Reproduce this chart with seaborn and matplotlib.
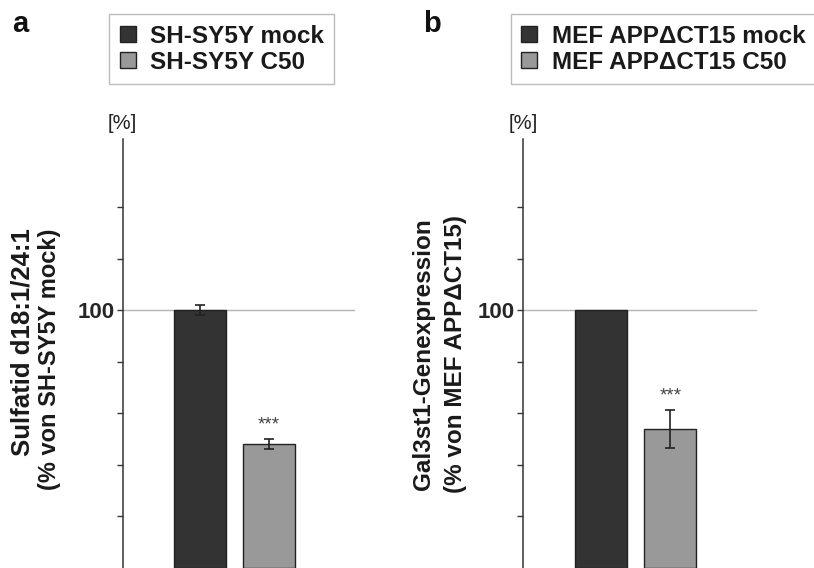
import matplotlib
matplotlib.use("Agg")
import matplotlib.pyplot as plt
import seaborn as sns
import pandas as pd
from matplotlib.patches import Patch

# ---- data ----
groups_a = ["SH-SY5Y mock", "SH-SY5Y C50"]
values_a = [100.0, 48.1]
errors_a = [1.9, 1.9]

groups_b = ["MEF APP\u0394CT15 mock", "MEF APP\u0394CT15 C50"]
values_b = [100.0, 53.9]
errors_b = [0.0, 7.3]

ylabel_a = ["Sulfatid d18:1/24:1", "(% von SH-SY5Y mock)"]
ylabel_b = ["Gal3st1-Genexpression", "(% von MEF APP\u0394CT15)"]
signif = "***"
colors = ["#333333", "#999999"]

sns.set_theme(style="white")
plt.rcParams["font.family"] = ["Liberation Sans", "DejaVu Sans"]

W, H = 814, 568
fig = plt.figure(figsize=(W / 100, H / 100), dpi=100)

def px(x, y):
    return x / W, 1 - y / H

def panel(left, right, groups, values, errors, ylab, lab_pos, lab_sizes, letter, letter_x, leg_x):
    top = 139
    ax = fig.add_axes([left / W, 0, (right - left) / W, (H - top) / H])
    df = pd.DataFrame({"group": groups, "value": values})
    sns.barplot(data=df, x="group", y="value", hue="group", palette=colors,
                order=groups, hue_order=groups, width=0.754, dodge=False,
                edgecolor="#222222", linewidth=1.0, errorbar=None, legend=False, ax=ax)
    for i, (v, e) in enumerate(zip(values, errors)):
        if e > 0:
            ax.errorbar(i, v, yerr=e, fmt="none", ecolor="#222222",
                        elinewidth=1.2, capsize=3.5, capthick=1.2, zorder=5)
    ax.text(1, values[1] + errors[1] + 3.6, signif, ha="center", va="baseline",
            fontsize=13.5, color="#444444")
    ax.set_xlim(-1.12, 2.246)
    ax.set_ylim(0, 166.4)
    ax.set_xlabel("")
    ax.set_ylabel("")
    ax.set_xticks([])
    ax.set_yticks([100])
    ax.set_yticklabels(["100"], fontsize=16, fontweight="bold")
    ax.set_yticks([20, 40, 60, 80, 120, 140], minor=True)
    ax.tick_params(axis="y", which="both", direction="out", length=4.5, width=1.0,
                   color="#333333", pad=1.5, left=True)
    ax.axhline(100, color="#b5b5b5", lw=1.0, zorder=0)
    for s in ["top", "right", "bottom"]:
        ax.spines[s].set_visible(False)
    ax.spines["left"].set_color("#333333")
    ax.spines["left"].set_linewidth(1.1)
    ax.set_facecolor("none")
    # [%]
    fig.text(*px(left, 124), "[%]", ha="center", va="center", fontsize=14.5, color="#222222")
    # y-label lines
    for txt, (x, y), fs in zip(ylab, lab_pos, lab_sizes):
        fig.text(*px(x, y), txt, rotation=90, ha="center", va="center",
                 fontsize=fs, fontweight="bold", color="#1a1a1a")
    # panel letter
    fig.text(*px(letter_x, 24), letter, ha="left", va="center", fontsize=21,
             fontweight="bold", color="#111111")
    handles = [Patch(facecolor=c, edgecolor="#222222", linewidth=1.0) for c in colors]
    leg = fig.legend(handles, groups, loc="upper left", bbox_to_anchor=px(leg_x, 14.3),
                     bbox_transform=fig.transFigure, borderaxespad=0, frameon=True,
                     fancybox=False, edgecolor="#aaaaaa", handlelength=0.67,
                     handleheight=0.63, handletextpad=0.58, borderpad=0.42,
                     labelspacing=0.14,
                     prop={"family": ["Liberation Sans", "DejaVu Sans"], "size": 17.5, "weight": "bold"})
    leg.get_frame().set_linewidth(1.0)
    for t in leg.get_texts():
        t.set_color("#1a1a1a")
    return ax

panel(122.7, 355, groups_a, values_a, errors_a, ylabel_a,
      [(22.5, 342), (50, 359)], [18.5, 17.0], "a", 11.7, 109.3)
panel(523.3, 756.7, groups_b, values_b, errors_b, ylabel_b,
      [(424, 354), (455, 354)], [17.5, 17.5], "b", 423.3, 511)

fig.savefig("out.png", dpi=100)
